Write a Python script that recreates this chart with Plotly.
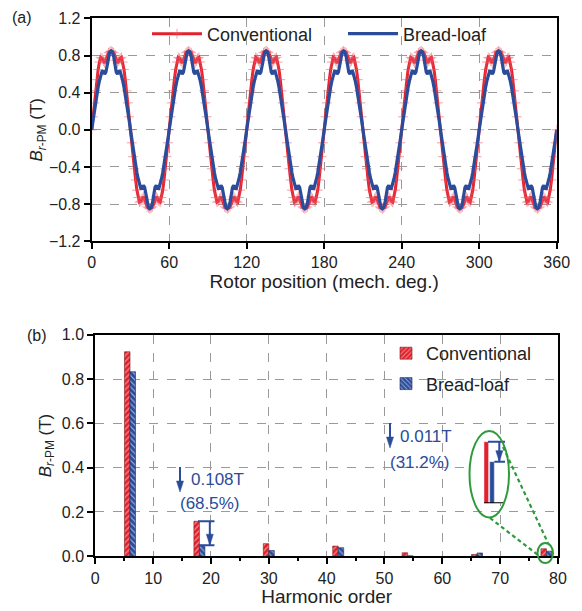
import numpy as np
import plotly.graph_objects as go

# ---------------- data: panel (a) ----------------
# one electrical period (60 mech. deg.) read at 1 deg steps, repeated 6 times
conv_period = [0.00, 0.14, 0.29, 0.42, 0.54, 0.65, 0.73, 0.78, 0.77, 0.74,
               0.72, 0.75, 0.80, 0.83, 0.84, 0.85, 0.84, 0.83, 0.80, 0.75,
               0.72, 0.74, 0.77, 0.78, 0.73, 0.65, 0.54, 0.42, 0.29, 0.14,
               0.00, -0.14, -0.29, -0.42, -0.54, -0.65, -0.73, -0.78, -0.77, -0.74,
               -0.72, -0.75, -0.80, -0.83, -0.84, -0.85, -0.84, -0.83, -0.80, -0.75,
               -0.72, -0.74, -0.77, -0.78, -0.73, -0.65, -0.54, -0.42, -0.29, -0.14]
bread_period = [0.00, 0.10, 0.20, 0.29, 0.38, 0.46, 0.53, 0.59, 0.63, 0.63,
                0.60, 0.62, 0.70, 0.79, 0.84, 0.85, 0.84, 0.79, 0.70, 0.62,
                0.60, 0.63, 0.63, 0.59, 0.53, 0.46, 0.38, 0.29, 0.20, 0.10,
                0.00, -0.10, -0.20, -0.29, -0.38, -0.46, -0.53, -0.59, -0.63, -0.63,
                -0.60, -0.62, -0.70, -0.79, -0.84, -0.85, -0.84, -0.79, -0.70, -0.62,
                -0.60, -0.63, -0.63, -0.59, -0.53, -0.46, -0.38, -0.29, -0.20, -0.10]
n_periods = 6
rotor_pos = list(range(0, 361))
conv_wave = conv_period * n_periods + [conv_period[0]]
bread_wave = bread_period * n_periods + [bread_period[0]]

# ---------------- data: panel (b) ----------------
harmonic_order = [6, 18, 30, 42, 54, 66, 78]
conv_harm = [0.923, 0.158, 0.057, 0.046, 0.016, 0.008, 0.034]
bread_harm = [0.833, 0.050, 0.026, 0.039, 0.002, 0.015, 0.023]

xticks_a = [0, 60, 120, 180, 240, 300, 360]
yticks_a = [-1.2, -0.8, -0.4, 0.0, 0.4, 0.8, 1.2]
xticks_b = [0, 10, 20, 30, 40, 50, 60, 70, 80]
yticks_b = [0.0, 0.2, 0.4, 0.6, 0.8, 1.0]

# ---------------- style ----------------
W, H = 582, 611
RED = "#e3202b"
BLUE = "#2b4c9b"
GREEN = "#2f9a3c"
FONT = "Liberation Sans, Arial, sans-serif"
TXT = "#222222"
YTITLE = "<i>B</i><sub><i>r</i>-PM</sub> (T)"


def px(x):
    return x / W


def py(y):
    return 1 - y / H


fig = go.Figure()

# panel (a)
fig.add_trace(go.Scatter(
    x=rotor_pos, y=conv_wave, mode="lines+markers", name="Conventional",
    line=dict(color=RED, width=3),
    marker=dict(symbol="cross-thin", size=7, color="rgba(235,80,95,0.55)",
                line=dict(color="rgba(235,80,95,0.55)", width=1)),
    xaxis="x", yaxis="y", legend="legend"))
fig.add_trace(go.Scatter(
    x=rotor_pos, y=bread_wave, mode="lines", name="Bread-loaf",
    line=dict(color=BLUE, width=3.2),
    xaxis="x", yaxis="y", legend="legend"))

# panel (b)
fig.add_trace(go.Bar(
    x=harmonic_order, y=conv_harm, name="Conventional", width=0.95, offset=-0.95,
    marker=dict(color=RED, line=dict(color="#7a1a1a", width=0.6),
                pattern=dict(shape="/", fgcolor="white", bgcolor=RED, size=4, solidity=0.3)),
    xaxis="x2", yaxis="y2", legend="legend2", legendgroup="c"))
fig.add_trace(go.Bar(
    x=harmonic_order, y=bread_harm, name="Bread-loaf", width=0.95, offset=0.0,
    marker=dict(color=BLUE, line=dict(color="#1a2a5a", width=0.6),
                pattern=dict(shape="\\", fgcolor="white", bgcolor=BLUE, size=4, solidity=0.3)),
    xaxis="x2", yaxis="y2", legend="legend2", legendgroup="b"))

# inset (zoom of 78th harmonic)
fig.add_trace(go.Bar(x=harmonic_order[-1:], y=conv_harm[-1:], width=0.8, offset=-0.9,
                     marker=dict(color=RED), showlegend=False, xaxis="x3", yaxis="y3"))
fig.add_trace(go.Bar(x=harmonic_order[-1:], y=bread_harm[-1:], width=0.8, offset=0.1,
                     marker=dict(color=BLUE), showlegend=False, xaxis="x3", yaxis="y3"))

axis_common = dict(showline=True, linewidth=2, linecolor="black", mirror=True,
                   ticks="outside", ticklen=6, tickwidth=2, tickcolor="black",
                   showgrid=True, gridcolor="#9a9a9a", griddash="dash", gridwidth=1,
                   zeroline=False, tickfont=dict(family=FONT, size=16, color=TXT))
xt = dict(font=dict(family=FONT, size=19, color=TXT), standoff=3)
ytfont = dict(family=FONT, size=17, color=TXT)

fig.update_layout(
    width=W, height=H, margin=dict(l=0, r=0, t=0, b=0),
    paper_bgcolor="white", plot_bgcolor="white", barmode="overlay",
    font=dict(family=FONT, color=TXT),
    xaxis=dict(domain=[px(91.7), px(556.7)], range=[0, 360], tickvals=xticks_a,
               anchor="y", automargin=False, title=dict(text="Rotor position (mech. deg.)", **xt),
               **axis_common),
    yaxis=dict(domain=[py(241.2), py(18.4)], range=[-1.2, 1.2], tickvals=yticks_a,
               tickformat=".1f", anchor="x", automargin=False,
               title=dict(text=YTITLE, font=ytfont, standoff=0), **axis_common),
    xaxis2=dict(domain=[px(95.3), px(558)], range=[0, 80], tickvals=xticks_b,
                anchor="y2", automargin=False, title=dict(text="Harmonic order", **xt),
                minor=dict(dtick=5, tick0=0, ticks="outside", ticklen=3, tickwidth=1.5,
                           tickcolor="black", showgrid=False),
                **axis_common),
    yaxis2=dict(domain=[py(556.3), py(334.7)], range=[0, 1.0], tickvals=yticks_b,
                tickformat=".1f", anchor="x2", automargin=False,
                title=dict(text=YTITLE, font=ytfont, standoff=6), **axis_common),
    xaxis3=dict(domain=[px(470), px(510)], range=[74.65, 81.65], visible=False,
                anchor="y3", fixedrange=True),
    yaxis3=dict(domain=[py(503.3), py(435)], range=[0, 0.0377], visible=False,
                anchor="x3", fixedrange=True),
    legend=dict(x=px(147), y=py(34), xanchor="left", yanchor="middle", xref="paper", yref="paper",
                orientation="h", bgcolor="rgba(0,0,0,0)", itemwidth=50, entrywidth=131,
                font=dict(family=FONT, size=18, color=TXT)),
    legend2=dict(x=px(386), y=py(335), xanchor="left", yanchor="top", xref="paper", yref="paper",
                 orientation="v", bgcolor="rgba(0,0,0,0)", tracegroupgap=4,
                 font=dict(family=FONT, size=18, color=TXT)),
)

ann = []


def label(text, x, y, size, color=TXT, xanchor="center", angle=0):
    ann.append(dict(text=text, x=px(x), y=py(y), xref="paper", yref="paper",
                    xanchor=xanchor, yanchor="middle", textangle=angle, showarrow=False,
                    font=dict(size=size, family=FONT, color=color)))


# panel labels
label("(a)", 22, 17, 16)
label("(b)", 37, 335, 16)

# reduction notes
for txt, x, y in [("0.108T", 189, 480), ("(68.5%)", 178, 503),
                  ("0.011T", 398, 436), ("(31.2%)", 388, 462)]:
    label(txt, x, y, 17, color=BLUE, xanchor="left")
fig.update_layout(annotations=ann)

shapes = []
bl = dict(color=BLUE, width=2)
HEAD = "M0,0 L-3.5,11 L3.5,11 Z"   # downward arrow head, tip at anchor (pixels)


def down_arrow(xref, yref, x, y_top, y_tip, y_line_end=None):
    shapes.append(dict(type="line", xref=xref, yref=yref, x0=x, x1=x,
                       y0=y_top, y1=y_tip if y_line_end is None else y_line_end, line=bl))
    shapes.append(dict(type="path", xref=xref, yref=yref, xsizemode="pixel", ysizemode="pixel",
                       xanchor=x, yanchor=y_tip, path=HEAD, fillcolor=BLUE,
                       line=dict(color=BLUE, width=0.5)))


# free arrows next to the notes (paper coordinates)
down_arrow("paper", "paper", px(180), py(467), py(492), py(484))
down_arrow("paper", "paper", px(390), py(423), py(448), py(440))

# bracket at 18th harmonic
shapes.append(dict(type="line", xref="x2", yref="y2", x0=17.75, x1=20.6,
                   y0=conv_harm[1], y1=conv_harm[1], line=bl))
shapes.append(dict(type="line", xref="x2", yref="y2", x0=17.9, x1=20.6,
                   y0=bread_harm[1], y1=bread_harm[1], line=bl))
down_arrow("x2", "y2", 19.8, conv_harm[1], bread_harm[1])
# inset baseline and bracket
shapes.append(dict(type="line", xref="x3", yref="y3", x0=77.1, x1=80.45, y0=0, y1=0,
                   line=dict(color="black", width=2)))
shapes.append(dict(type="line", xref="x3", yref="y3", x0=77.8, x1=80.78,
                   y0=conv_harm[-1], y1=conv_harm[-1], line=bl))
shapes.append(dict(type="line", xref="x3", yref="y3", x0=78.9, x1=80.78,
                   y0=bread_harm[-1], y1=bread_harm[-1], line=bl))
down_arrow("x3", "y3", 79.78, conv_harm[-1], bread_harm[-1])
# green ellipse, small circle, dashed connectors
gl = dict(color=GREEN, width=2)
shapes.append(dict(type="circle", xref="paper", yref="paper", x0=px(469.5), x1=px(509),
                   y0=py(517.5), y1=py(431), line=gl))
shapes.append(dict(type="circle", xref="paper", yref="paper", x0=px(537.5), x1=px(553),
                   y0=py(563), y1=py(543), line=gl))
gd = dict(color=GREEN, width=2.2, dash="4px,3px")
shapes.append(dict(type="line", xref="paper", yref="paper", x0=px(490), y0=py(518),
                   x1=px(538), y1=py(555), line=gd))
shapes.append(dict(type="line", xref="paper", yref="paper", x0=px(503), y0=py(447),
                   x1=px(548), y1=py(543), line=gd))
fig.update_layout(shapes=shapes)

fig.write_html("out.html", config={"displayModeBar": False},
               post_script="document.body.style.margin='0';document.body.style.overflow='hidden';")
